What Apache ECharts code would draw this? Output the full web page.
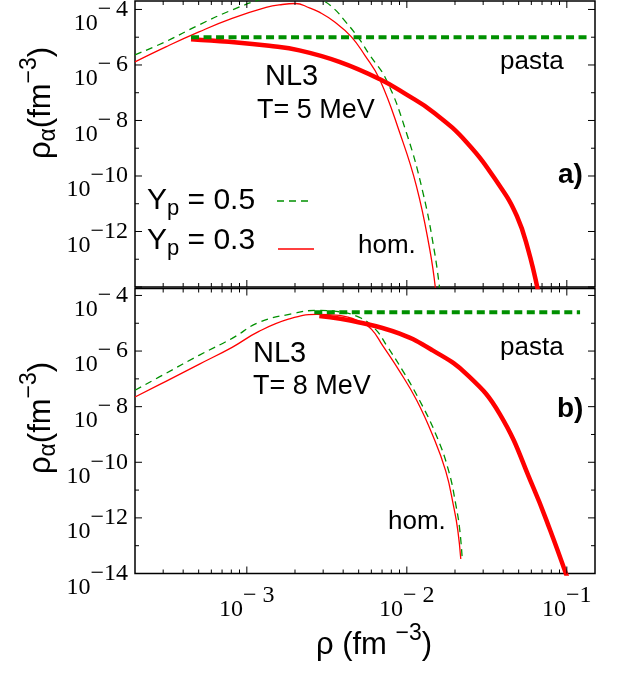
<!DOCTYPE html>
<html><head><meta charset="utf-8">
<script src="https://cdn.jsdelivr.net/npm/echarts@6/dist/echarts.min.js"></script>
<style>html,body{margin:0;padding:0;background:#fff}#c{width:625px;height:673px}</style>
</head><body><div id="c"></div><script>
// ---------- data ----------
// Panel a) NL3, T = 5 MeV
const aHom05X = [2.0e-4, 3.12e-4, 5.02e-4, 8.09e-4, 1.25e-3, 1.714e-3, 2.067e-3, 2.46e-3, 2.96e-3, 3.526e-3, 4.074e-3, 4.92e-3, 5.85e-3, 7.44e-3, 9.93e-3, 1.26e-2, 1.49e-2, 1.61e-2];
const aHom05Y = [2.32e-6, 6.98e-6, 2.77e-5, 9.6e-5, 2.38e-4, 3.456e-4, 3.754e-4, 3.183e-4, 2.19e-4, 1.042e-4, 4.03e-5, 1.054e-5, 2.32e-6, 2.94e-7, 3.68e-9, 2.58e-11, 1.81e-13, 7.2e-15];
const aHom03X = [2.0e-4, 3.12e-4, 5.02e-4, 8.09e-4, 1.32e-3, 1.665e-3, 2.01e-3, 2.46e-3, 2.84e-3, 3.526e-3, 4.49e-3, 5.44e-3, 6.75e-3, 9.02e-3, 1.148e-2, 1.39e-2, 1.516e-2];
const aHom03Y = [1.30e-6, 4.51e-6, 1.556e-5, 4.75e-5, 1.18e-4, 1.512e-4, 1.64e-4, 1.151e-4, 8.0e-5, 3.62e-5, 1.054e-5, 2.32e-6, 3.12e-7, 3.68e-9, 4.34e-11, 2.31e-13, 7.2e-15];
const aPasta03X = [4.48e-4, 7.74e-4, 1.38e-3, 2.13e-3, 3.79e-3, 6.75e-3, 9.97e-3, 1.45e-2, 2.37e-2, 3.82e-2, 4.88e-2, 5.72e-2, 6.61e-2];
const aPasta03Y = [8.51e-6, 6.81e-6, 4.89e-6, 3.37e-6, 1.30e-6, 3.12e-7, 8.51e-8, 2.08e-8, 1.61e-9, 4.24e-11, 3.54e-12, 2.31e-13, 7.2e-15];
const aPasta05X = [4.48e-4, 0.14];
const aPasta05Y = [1.0e-5, 1.0e-5];
// Panel b) NL3, T = 8 MeV
const bHom05X = [2.0e-4, 3.12e-4, 5.02e-4, 8.09e-4, 1.19e-3, 1.92e-3, 2.72e-3, 3.63e-3, 5.06e-3, 6.375e-3, 7.47e-3, 9.48e-3, 1.20e-2, 1.527e-2, 1.828e-2, 2.037e-2, 2.143e-2, 2.222e-2];
const bHom05Y = [3.88e-8, 1.58e-7, 7.01e-7, 2.86e-6, 1.07e-5, 2.20e-5, 2.89e-5, 2.66e-5, 1.62e-5, 6.01e-6, 1.60e-6, 1.866e-7, 1.70e-8, 9.40e-10, 4.79e-11, 2.44e-12, 3.65e-13, 3.05e-14];
const bHom03X = [2.0e-4, 3.12e-4, 5.02e-4, 8.09e-4, 1.19e-3, 1.84e-3, 2.72e-3, 3.79e-3, 5.06e-3, 6.02e-3, 7.05e-3, 9.02e-3, 1.152e-2, 1.45e-2, 1.751e-2, 1.965e-2, 2.082e-2, 2.174e-2];
const bHom03Y = [2.23e-8, 8.17e-8, 3.33e-7, 1.36e-6, 5.09e-6, 1.43e-5, 2.08e-5, 1.91e-5, 1.16e-5, 6.01e-6, 1.60e-6, 1.866e-7, 1.70e-8, 9.40e-10, 4.79e-11, 2.44e-12, 3.65e-13, 3.32e-14];
const bPasta03X = [2.84e-3, 5.06e-3, 9.02e-3, 1.45e-2, 2.37e-2, 3.82e-2, 6.15e-2, 7.86e-2, 0.1019];
const bPasta03Y = [1.81e-5, 1.07e-5, 4.22e-6, 1.06e-6, 1.455e-7, 5.33e-9, 1.31e-11, 3.65e-13, 5.85e-15];
const bPasta05X = [2.64e-3, 0.121];
const bPasta05Y = [2.5e-5, 2.5e-5];

// ---------- axes: ranges and ticks ----------
const xRange = [2e-4, 0.15];
const yRangeA = [1e-14, Math.pow(10, -3.695)];
const yRangeB = [1e-14, Math.pow(10, -3.75)];
const xLabelValues = [1e-3, 1e-2, 1e-1];
const yLabelValuesA = [1e-12, 1e-10, 1e-8, 1e-6, 1e-4];
const yLabelValuesB = [1e-14, 1e-12, 1e-10, 1e-8, 1e-6, 1e-4];
const xMajorTicks = [1e-3, 1e-2, 1e-1];
const xMinorTicks = [3e-4,4e-4,5e-4,6e-4,7e-4,8e-4,9e-4,2e-3,3e-3,4e-3,5e-3,6e-3,7e-3,8e-3,9e-3,2e-2,3e-2,4e-2,5e-2,6e-2,7e-2,8e-2,9e-2];
const yMajorTicks = [1e-14, 1e-12, 1e-10, 1e-8, 1e-6, 1e-4];
const yMinorTicks = [1e-13, 1e-11, 1e-9, 1e-7, 1e-5];

const RED = '#ff0000', GREEN = '#009000';
const SANS = 'Liberation Sans', SERIF = 'Liberation Serif';

function pts(xs, ys) { return xs.map((x, i) => [x, ys[i]]); }
function expLabel(v, isX) {
  const e = Math.round(Math.log10(v));
  const a = Math.abs(e);
  let s;
  if (a >= 10) s = '\u2212' + a;
  else if (isX) s = (a === 1 ? '\u2212' : '\u2212 ') + a;
  else s = '\u2212\u2009' + a;
  return '{b|10}{s|' + s + '}';
}

const grids = [
  {left: 135, right: 30, top: 1, height: 286},
  {left: 135, right: 30, top: 288.5, height: 285}
].map(g => Object.assign(g, {show: true, borderColor: '#000', borderWidth: 1.5, backgroundColor: 'transparent',
  containLabel: false, outerBoundsMode: 'none'}));

const xAxes = [0, 1].map(i => ({
  type: 'log', gridIndex: i, min: xRange[0], max: xRange[1],
  axisLine: {show: false}, axisTick: {show: false}, splitLine: {show: false}, minorTick: {show: false},
  axisLabel: i === 1 ? {
    show: true, customValues: xLabelValues, margin: 24, interval: 0, showMinLabel: true, showMaxLabel: true,
    formatter: v => expLabel(v, true),
    rich: {
      b: {fontFamily: SERIF, fontSize: 24, lineHeight: 24, color: '#000', verticalAlign: 'bottom'},
      s: {fontFamily: SERIF, fontSize: 24, lineHeight: 24, color: '#000', verticalAlign: 'bottom', padding: [0, 0, 14, 0]}
    }
  } : {show: false}
}));
const yAxes = [0, 1].map(i => ({
  type: 'log', gridIndex: i, min: (i === 0 ? yRangeA : yRangeB)[0], max: (i === 0 ? yRangeA : yRangeB)[1],
  axisLine: {show: false}, axisTick: {show: false}, splitLine: {show: false}, minorTick: {show: false},
  axisLabel: {
    show: true, customValues: i === 0 ? yLabelValuesA : yLabelValuesB, margin: 7, interval: 0,
    showMinLabel: true, showMaxLabel: true, hideOverlap: false,
    formatter: v => expLabel(v, false),
    rich: {
      b: {fontFamily: SERIF, fontSize: 24, lineHeight: 24, color: '#000', verticalAlign: 'middle', padding: [28, 0, 0, 0]},
      s: {fontFamily: SERIF, fontSize: 24, lineHeight: 24, color: '#000', verticalAlign: 'middle'}
    }
  }
}));

function curve(g, xs, ys, color, width, dash, smooth) {
  return {
    type: 'line', xAxisIndex: g, yAxisIndex: g, data: pts(xs, ys), showSymbol: false, symbol: 'none',
    smooth: smooth, silent: true, clip: true,
    lineStyle: {color: color, width: width, type: dash || 'solid', cap: 'butt'}
  };
}

function tickSeries(g) {
  const xRef = 1e-2, yRef = 1e-9;
  const data = [];
  xMajorTicks.forEach(v => data.push([v, yRef, 0]));
  xMinorTicks.forEach(v => data.push([v, yRef, 1]));
  yMajorTicks.forEach(v => data.push([xRef, v, 2]));
  yMinorTicks.forEach(v => data.push([xRef, v, 3]));
  return {
    type: 'custom', xAxisIndex: g, yAxisIndex: g, data: data, silent: true, z: 10, clip: false,
    encode: {x: 0, y: 1},
    renderItem: function (params, api) {
      const cs = params.coordSys;
      const kind = api.value(2);
      const p = api.coord([api.value(0), api.value(1)]);
      const top = cs.y, bot = cs.y + cs.height;
      const l = cs.x, r = cs.x + cs.width;
      const len = (kind === 0 || kind === 2) ? 7 : 4;
      const st = {stroke: '#000', lineWidth: 1};
      if (kind < 2) {
        return {type: 'group', children: [
          {type: 'line', shape: {x1: p[0], y1: bot, x2: p[0], y2: bot - len}, style: st},
          {type: 'line', shape: {x1: p[0], y1: top, x2: p[0], y2: top + len}, style: st}
        ]};
      }
      return {type: 'group', children: [
        {type: 'line', shape: {x1: l, y1: p[1], x2: l + len, y2: p[1]}, style: st},
        {type: 'line', shape: {x1: r, y1: p[1], x2: r - len, y2: p[1]}, style: st}
      ]};
    }
  };
}

const series = [
  curve(0, aHom03X, aHom03Y, RED, 1.3, null, 0.45),
  curve(0, aHom05X, aHom05Y, GREEN, 1.3, [7, 5], 0.45),
  curve(0, aPasta03X, aPasta03Y, RED, 4.5, null, 0.45),
  curve(0, aPasta05X, aPasta05Y, GREEN, 4, [8, 4.5], false),
  curve(1, bHom03X, bHom03Y, RED, 1.3, null, 0.45),
  curve(1, bHom05X, bHom05Y, GREEN, 1.3, [7, 5], 0.45),
  curve(1, bPasta03X, bPasta03Y, RED, 4.5, null, 0.45),
  curve(1, bPasta05X, bPasta05Y, GREEN, 4, [8, 4.5], false),
  tickSeries(0), tickSeries(1)
];

function txt(x, y, text, size, bold, align) {
  return {type: 'text', x: x, y: y, silent: true, z: 20,
    style: {text: text, fontFamily: SANS, fontSize: size, fontWeight: bold ? 'bold' : 'normal', fill: '#000', align: align || 'left', verticalAlign: 'middle'}};
}
function richSet(big, small, subPad, supPad) {
  return {
    n: {fontFamily: SANS, fontSize: big, lineHeight: big, color: '#000', verticalAlign: 'middle'},
    sub: {fontFamily: SANS, fontSize: small, lineHeight: small, color: '#000', verticalAlign: 'middle', padding: [subPad, 0, 0, 0]},
    sup: {fontFamily: SANS, fontSize: small, lineHeight: small, color: '#000', verticalAlign: 'middle', padding: [0, 0, supPad, 0]}
  };
}
const richTitle = richSet(31, 23, 16, 22);
const richLegend = richSet(30, 22, 16, 20);
function richTxt(x, y, text, rich, align, rot) {
  return {type: 'text', x: x, y: y, rotation: rot || 0, silent: true, z: 20,
    style: {text: text, rich: rich, align: align || 'left', verticalAlign: 'middle', fill: '#000'}};
}

const yTitle = '{n|\u03c1}{sub|\u03b1}{n|(fm}{sup|\u22123}{n|)}';
const graphic = [
  // panel a
  txt(265, 77, 'NL3', 29),
  txt(257, 111, 'T= 5 MeV', 27),
  txt(500, 62, 'pasta', 26),
  txt(558, 175, 'a)', 28, true),
  txt(358, 246, 'hom.', 26),
  richTxt(147, 201, '{n|Y}{sub|p}{n| = 0.5}', richLegend),
  richTxt(147, 241, '{n|Y}{sub|p}{n| = 0.3}', richLegend),
  {type: 'line', silent: true, z: 20, shape: {x1: 277, y1: 201, x2: 313, y2: 201}, style: {stroke: GREEN, lineWidth: 1.3, lineDash: [7, 5]}},
  {type: 'line', silent: true, z: 20, shape: {x1: 278, y1: 249, x2: 314, y2: 249}, style: {stroke: RED, lineWidth: 1.3}},
  // panel b
  txt(253, 354, 'NL3', 29),
  txt(253, 387, 'T= 8 MeV', 27),
  txt(500, 348, 'pasta', 26),
  txt(557, 409, 'b)', 28, true),
  txt(388, 522, 'hom.', 26),
  // axis titles
  richTxt(41, 103, yTitle, richTitle, 'center', Math.PI / 2),
  richTxt(41, 418, yTitle, richTitle, 'center', Math.PI / 2),
  richTxt(374, 645, '{n|\u03c1 (fm }{sup|\u22123}{n|)}', richTitle, 'center')
];

const chart = echarts.init(document.getElementById('c'), null, {renderer: 'canvas'});
chart.setOption({
  animation: false,
  backgroundColor: '#fff',
  grid: grids,
  xAxis: xAxes,
  yAxis: yAxes,
  series: series,
  graphic: graphic
});
</script></body></html>
